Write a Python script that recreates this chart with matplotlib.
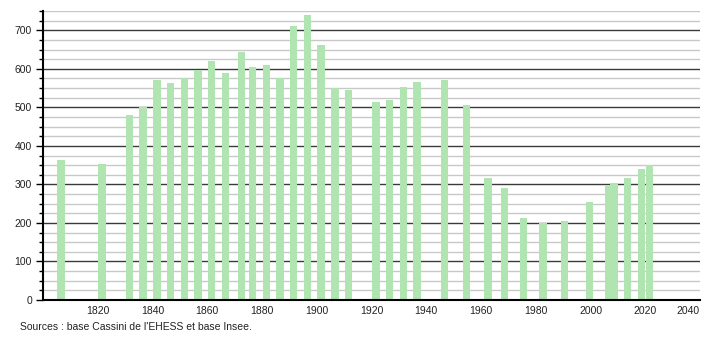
import numpy as np
import matplotlib
matplotlib.use("Agg")
import matplotlib.pyplot as plt
from matplotlib.ticker import MultipleLocator

# Évolution démographique (recensements)
annees = [1806, 1821, 1831, 1836, 1841, 1846, 1851, 1856, 1861, 1866,
          1872, 1876, 1881, 1886, 1891, 1896, 1901, 1906, 1911, 1921,
          1926, 1931, 1936, 1946, 1954, 1962, 1968, 1975, 1982, 1990,
          1999, 2006, 2008, 2013, 2018, 2021]
population = [364, 354, 481, 500, 570, 562, 576, 598, 619, 588,
              643, 605, 610, 576, 712, 739, 663, 551, 545, 515,
              520, 553, 567, 570, 507, 317, 291, 213, 200, 206,
              255, 295, 304, 317, 341, 350]
ticks_x = [1820, 1840, 1860, 1880, 1900, 1920, 1940, 1960, 1980, 2000, 2020, 2040]
source = "Sources : base Cassini de l'EHESS et base Insee."

plt.rcParams["font.family"] = ["Liberation Sans", "DejaVu Sans"]

fig = plt.figure(figsize=(7.1, 3.4), dpi=100)
ax = fig.add_axes([43 / 710, 40 / 340, 657 / 710, 289 / 340])

ax.set_xlim(1800, 2040)
ax.set_ylim(0, 750)

# grilles : majeure tous les 100, mineure tous les 25
ax.yaxis.set_major_locator(MultipleLocator(100))
ax.yaxis.set_minor_locator(MultipleLocator(25))
ax.grid(axis="y", which="minor", color="#c8c8c8", linewidth=1.0, zorder=0)
ax.grid(axis="y", which="major", color="#3a3a3a", linewidth=1.0, zorder=0)

ax.bar(np.array(annees) + 0.6, population, width=2.7, color="#b0e4b0",
       edgecolor="none", zorder=2)

ax.set_xticks(ticks_x)
ax.set_xticklabels([str(a) for a in ticks_x])
ax.get_xticklabels()[-1].set_horizontalalignment("right")
ax.tick_params(axis="x", length=0, pad=4, labelsize=7.5, colors="#222222")
ax.tick_params(axis="y", which="major", length=5, width=1, labelsize=7.5,
               pad=3, colors="black", labelcolor="#222222")
ax.tick_params(axis="y", which="minor", length=3, width=1, colors="black")

for s in ["top", "right"]:
    ax.spines[s].set_visible(False)
ax.spines["left"].set_linewidth(1.5)
ax.spines["bottom"].set_linewidth(1.5)

fig.text(20 / 710, 1 - 327 / 340, source, fontsize=7.5, va="center",
         ha="left", color="#222222")

fig.savefig("out.png", dpi=100)
